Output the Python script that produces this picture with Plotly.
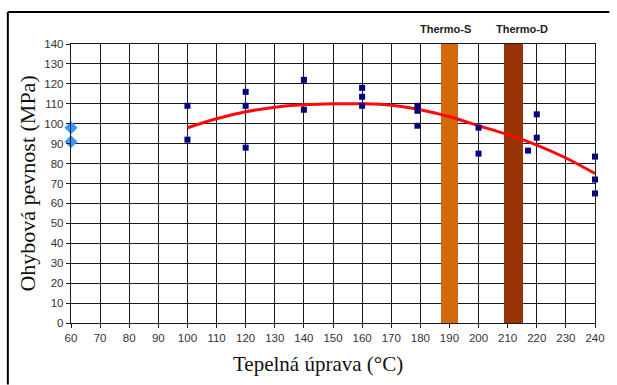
import plotly.graph_objects as go

# Data
ref_x = [60, 60]
ref_y = [98, 91]

samp_x = [100, 100, 120, 120, 120, 140, 140, 160, 160, 160, 179, 179, 179, 200, 200, 217, 220, 220, 240, 240, 240]
samp_y = [109, 92, 116, 109, 88, 122, 107, 118, 113.5, 109, 109, 106.5, 99, 98, 85, 86.5, 104.7, 93, 83.5, 72, 65]

trend_x = [100, 110, 120, 130, 140, 150, 160, 170, 180, 190, 200, 210, 220, 230, 240]
trend_y = [98, 102.5, 106, 108.3, 109.5, 110, 110, 109.3, 107, 103.5, 99, 94.5, 89.3, 82.8, 75]

thermo_names = ["Thermo-S", "Thermo-D"]
thermo_x = [190, 212.1]
thermo_width = [5.6, 6.6]
thermo_top = [140, 140]
thermo_colors = ["#D2690A", "#973306"]

x_ticks = list(range(60, 241, 10))
y_ticks = list(range(0, 141, 10))

L, R, T, B = 71, 15, 44, 62
W, H = 617, 385
PW, PH = W - L - R, H - T - B


def px2x(px):
    return (px - L) / PW


def py2y(py):
    return (H - B - py) / PH


fig = go.Figure()

fig.add_trace(go.Scatter(
    x=trend_x, y=trend_y, mode="lines",
    line=dict(color="#FF0A0A", width=3, shape="spline"),
    showlegend=False, hoverinfo="skip", cliponaxis=False))

fig.add_trace(go.Scatter(
    x=samp_x, y=samp_y, mode="markers",
    marker=dict(symbol="square", color="#000080", size=6),
    showlegend=False, cliponaxis=False))

fig.add_trace(go.Scatter(
    x=ref_x, y=ref_y, mode="markers",
    marker=dict(symbol="diamond", color="#3399FF", size=10),
    showlegend=False, cliponaxis=False))

fig.add_trace(go.Bar(
    x=thermo_x, y=thermo_top, width=thermo_width, base=0,
    marker=dict(color=thermo_colors, line=dict(width=0)),
    showlegend=False))

for name, xc in zip(thermo_names, [188.5, 215]):
    fig.add_annotation(x=xc, y=py2y(29), xref="x", yref="paper",
                       xanchor="center", yanchor="middle",
                       text=f"<b>{name}</b>", showarrow=False,
                       font=dict(family="Arial, Liberation Sans", size=11, color="#222"))

# axis titles
fig.add_annotation(x=px2x(321), y=py2y(364), xref="paper", yref="paper",
                   xanchor="center", yanchor="middle",
                   text="Tepelná úprava (°C)", showarrow=False,
                   font=dict(family="Times New Roman, Liberation Serif", size=21, color="#111"))
fig.add_annotation(x=px2x(26), y=py2y(184), xref="paper", yref="paper",
                   xanchor="center", yanchor="middle",
                   text="Ohybová pevnost (MPa)", showarrow=False, textangle=-90,
                   font=dict(family="Times New Roman, Liberation Serif", size=22, color="#111"))

# outer frame (left and top edges, the rest is cut off in the reference)
fig.add_shape(type="line", xref="paper", yref="paper",
              x0=px2x(7), x1=px2x(7), y0=py2y(384.5), y1=py2y(12),
              line=dict(color="black", width=2))
fig.add_shape(type="line", xref="paper", yref="paper",
              x0=px2x(7), x1=px2x(616.5), y0=py2y(12), y1=py2y(12),
              line=dict(color="black", width=2))

axis_common = dict(
    showgrid=True, gridcolor="#1a1a1a", gridwidth=1.4,
    showline=True, linecolor="#1a1a1a", linewidth=1.4, mirror=True,
    ticks="outside", ticklen=4, tickcolor="#1a1a1a", tickwidth=1.4,
    zeroline=False,
    tickfont=dict(family="Arial, Liberation Sans", size=11.5, color="#333"),
)

fig.update_xaxes(range=[60, 240], tickvals=x_ticks, **axis_common)
fig.update_yaxes(range=[0, 140], tickvals=y_ticks, **axis_common)

fig.update_layout(
    width=W, height=H,
    margin=dict(l=L, r=R, t=T, b=B),
    plot_bgcolor="white", paper_bgcolor="white",
    bargap=0,
)

fig.write_html(
    "out.html",
    config={"responsive": False, "displayModeBar": False},
    post_script="document.body.style.margin='0';document.body.style.overflow='hidden';",
)
